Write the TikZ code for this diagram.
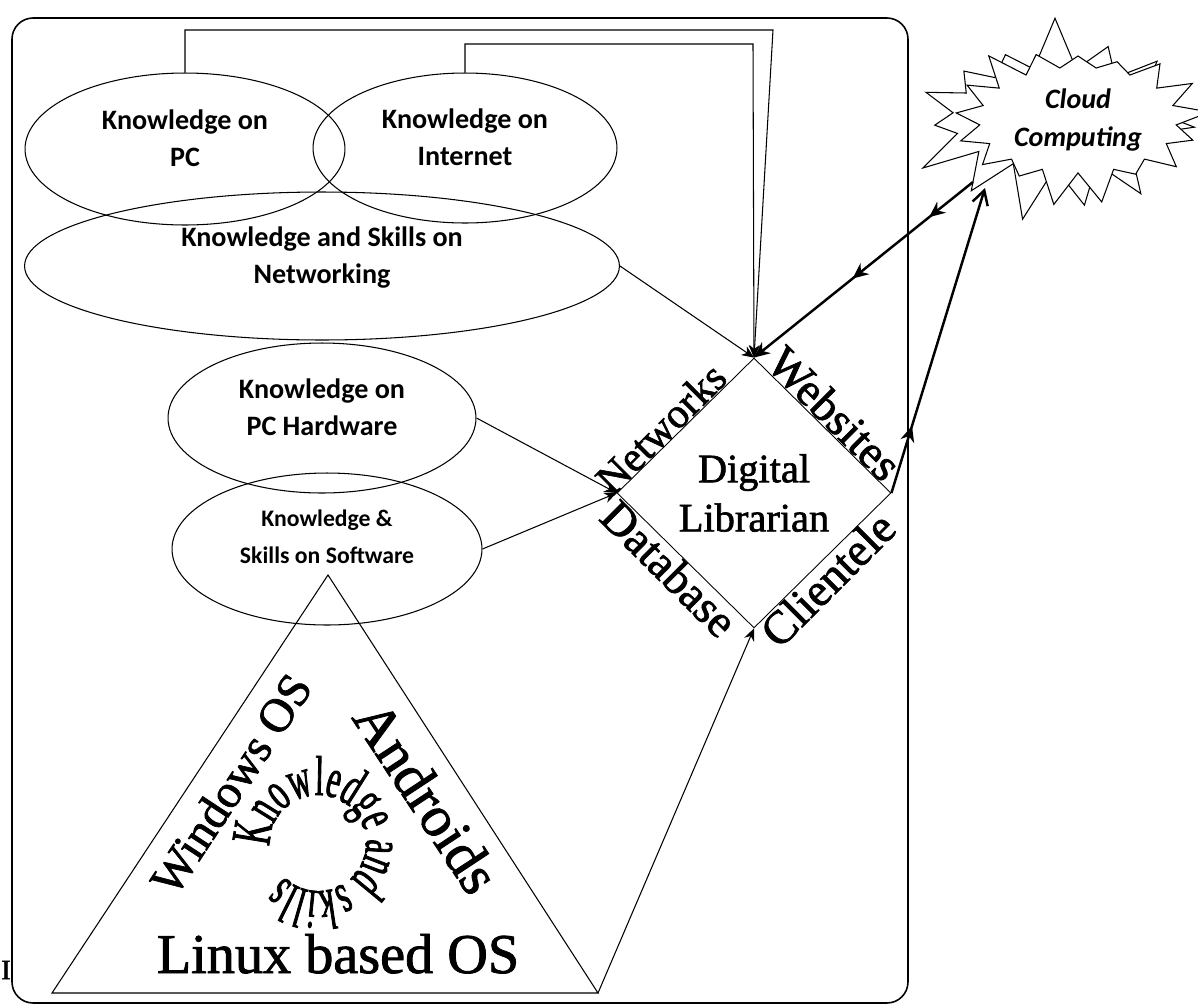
\documentclass[tikz,border=0pt]{standalone}
\usepackage{fontspec}
\setmainfont{Liberation Serif}
\newfontfamily\calibri{Carlito}
\newfontfamily\heavy[FakeBold=1.5]{Liberation Serif}
\newfontfamily\arcfont[FakeStretch=0.55,FakeBold=1.5]{Liberation Serif}
\usepackage{tikz}
\usetikzlibrary{shapes,shapes.geometric,shapes.symbols,arrows.meta,calc}
\usetikzlibrary{decorations.markings,decorations.text}

\tikzset{
  skill/.style={draw, ellipse, inner sep=0pt, align=center, line width=0.6pt, text depth=0.45cm,
    font=\calibri\bfseries\fontsize{16}{21}\selectfont},
  thin/.style={line width=0.6pt, -{Stealth[length=7pt,width=6pt]}},
  thick/.style={line width=1.4pt},
  side/.style={font=\heavy\fontsize{26.5}{30}\selectfont, inner sep=0pt},
}

\begin{document}
\begin{tikzpicture}[x=0.02cm,y=-0.02cm]
\useasboundingbox (0,0) rectangle (1198,1005);
\draw[line width=0.9pt, rounded corners=12pt] (12,18) rectangle (908,1003);
\node[font=\heavy\fontsize{16}{18}\selectfont, inner sep=0pt] (stray) at (6,970) {I};

% the skill ellipses
\node[skill, minimum width=6.4cm, minimum height=3.04cm] (pc) at (185,149) {Knowledge on\\PC};
\node[skill, minimum width=6.08cm, minimum height=3.0cm] (inet) at (465,148) {Knowledge on\\Internet};
\node[skill, minimum width=11.9cm, minimum height=2.96cm] (netw) at (322,266) {Knowledge and Skills on\\Networking};
\node[skill, minimum width=6.16cm, minimum height=3.0cm] (hw) at (322,418) {Knowledge on\\PC Hardware};
\node[skill, minimum width=6.2cm, minimum height=3.04cm, text depth=0.5cm,
  font=\calibri\bfseries\fontsize{13.5}{21}\selectfont] (sw) at (327,549) {Knowledge \&\\Skills on Software};

% the librarian
\node[draw, diamond, line width=0.5pt, inner sep=0pt, minimum width=5.48cm, minimum height=5.4cm,
  align=center, font=\heavy\fontsize{23}{28}\selectfont] (dl) at (754,493) {Digital\\Librarian};
\node[side, rotate=45, anchor=south, font=\heavy\fontsize{24}{28}\selectfont] at ($(dl.north)!0.6!(dl.west)$) {Networks};
\node[side, rotate=-45, anchor=south] at ($(dl.north)!0.5!(dl.east)$) {Websites};
\node[side, rotate=-45, anchor=north] at ($(dl.south)!0.53!(dl.west)$) {Database};
\node[side, rotate=45, anchor=north] at ($(dl.south)!0.45!(dl.east)$) {Clientele};

% cloud
\node[draw, starburst, starburst points=15, starburst point height=1.1cm, random starburst=7,
  minimum width=6.3cm, minimum height=4.2cm, line width=0.6pt] (burst) at (1055,118) {};
\node[draw, fill=white, starburst, starburst points=17, starburst point height=0.7cm, random starburst=3,
  minimum width=4.6cm, minimum height=3.3cm, line width=0.6pt, align=center,
  font=\calibri\bfseries\itshape\fontsize{16}{22}\selectfont] (cloud) at (1078,120) {Cloud\\Computing};
\coordinate (cin) at (973,182);
\coordinate (cout) at (985,188);

% OS triangle
\coordinate (tA) at (328,575);
\coordinate (tL) at (52,993);
\coordinate (tR) at (598,993);
\draw[line width=0.6pt] (tA) -- (tL) -- (tR) -- cycle;
\node[rotate=56.6, font=\heavy\fontsize{27}{30}\selectfont] (win) at (231,784) {Windows OS};
\node[rotate=-56.6, font=\heavy\fontsize{33}{36}\selectfont] (andr) at (427,797) {Androids};
\node[anchor=base, font=\heavy\fontsize{32}{36}\selectfont] (linux) at (338,973) {Linux based OS};
\begin{scope}[shift={(318,843)}, y=0.02cm]
\path[decorate, decoration={text along path, text align=left,
  text={|\arcfont\fontsize{32}{32}\selectfont|Knowledge and skills}}]
  (184:48) arc[start angle=184, end angle=-170, radius=48];
\end{scope}

% links into the librarian
\coordinate (b1) at (773,30);
\coordinate (b2) at (753,44);
\draw[thin] (pc.north) |- (b1) -- (dl.north);
\draw[thin] (inet.north) |- (b2) -- (dl.north);
\draw[thin] (netw.east) -- (dl.north);
\draw[thin] (hw.east) -- (dl.west);
\draw[thin] (sw.east) -- (dl.west);
\draw[thin] (tR) -- (dl.south);

\draw[thick, -{Stealth[length=9pt,width=8pt]}, decoration={markings,
  mark=at position 0.2 with {\arrow{Stealth[length=9pt,width=8pt]}},
  mark=at position 0.55 with {\arrow{Stealth[length=9pt,width=8pt]}}}, postaction={decorate}]
  (cin) -- (dl.north);
\draw[thick, -{Straight Barb[length=8pt,width=9pt]}, decoration={markings,
  mark=at position 0.22 with {\arrow{Stealth[length=9pt,width=8pt]}}}, postaction={decorate}]
  (dl.east) -- (cout);
\end{tikzpicture}
\end{document}
